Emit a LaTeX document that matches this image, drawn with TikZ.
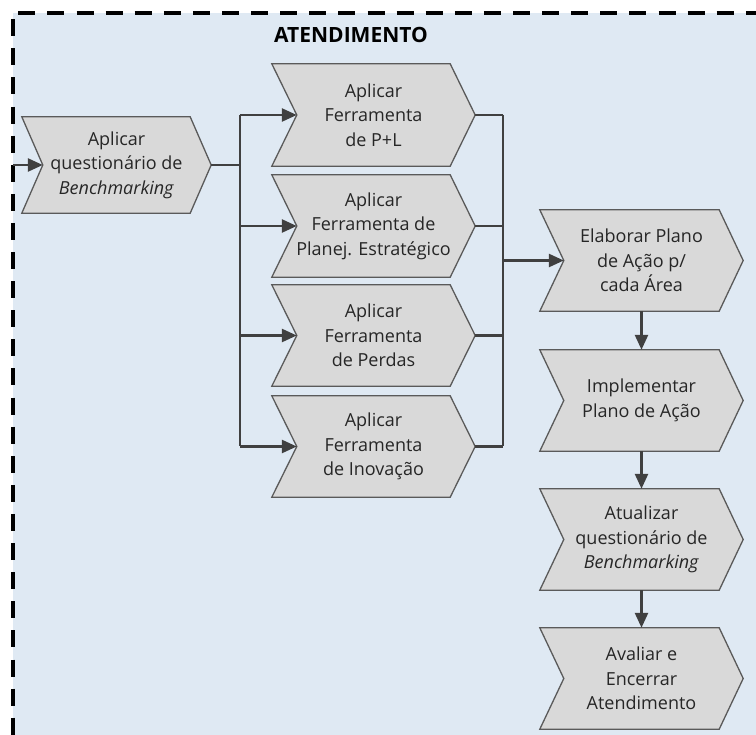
\documentclass[tikz,border=0pt]{standalone}
\usepackage{fontspec}
\setmainfont{Open Sans}
\usetikzlibrary{calc,arrows.meta}

\definecolor{panel}{HTML}{DFE9F3}
\definecolor{chevfill}{HTML}{D9D9D9}
\definecolor{chevline}{HTML}{5A5A5A}
\definecolor{wirecol}{HTML}{404040}
\definecolor{ink}{HTML}{262626}

\pgfdeclarelayer{back}
\pgfdeclarelayer{bg}
\pgfsetlayers{back,bg,main}

\tikzset{
  chev/.style={minimum width=203pt, minimum height=101pt, inner sep=0pt,
    align=center, text=ink, font=\fontsize{18}{24.5}\selectfont},
  chevshape/.style={fill=chevfill, draw=chevline, line width=1.3pt, line join=miter},
  wire/.style={draw=wirecol, line width=2.6pt},
  flow/.style={wire, -{Triangle[length=15pt,width=13pt]}},
  frame/.style={line width=4pt, dash pattern=on 17pt off 12.1pt},
  heading/.style={font=\fontsize{21}{24}\selectfont\bfseries, text=black},
}

% chevron outline behind a node; #2 is the depth of the point and the notch
\newcommand\chevron[2]{%
  \begin{pgfonlayer}{bg}
    \path[chevshape] (#1.north west) -- ($(#1.north east)+(-#2,0pt)$) -- (#1.east)
      -- ($(#1.south east)+(-#2,0pt)$) -- (#1.south west) -- ($(#1.west)+(#2,0pt)$) -- cycle;
  \end{pgfonlayer}
  \coordinate (#1-in) at ($(#1.west)+(#2,0pt)$);
}

\begin{document}
\begin{tikzpicture}[x=1pt,y=-1pt]
  \useasboundingbox (0,0) rectangle (756,735);
  \begin{pgfonlayer}{back}
    \clip (0,0) rectangle (756,735);
    \fill[panel] (13,13) rectangle (770,750);
    \draw[frame, dash phase=23.8pt] (13,13) -- (770,13);
    \draw[frame, dash phase=22.8pt] (13,13) -- (13,750);
  \end{pgfonlayer}

  \node[heading] (title) at (351,35) {ATENDIMENTO};

  % entry step
  \node[chev, minimum width=189pt, minimum height=96pt] (bench) at (116.5,165)
    {Aplicar\\questionário de\\\textit{Benchmarking}};
  \chevron{bench}{21pt}

  % tools applied in parallel
  \node[chev, minimum height=102pt] (pl)   at (373.5,115)   {Aplicar\\Ferramenta\\de P+L};
  \node[chev, minimum height=102pt] (plan) at (373.5,226)   {Aplicar\\Ferramenta de\\Planej. Estratégico};
  \node[chev] (perd) at (373.5,335.5) {Aplicar\\Ferramenta\\de Perdas};
  \node[chev] (inov) at (373.5,446.5) {Aplicar\\Ferramenta\\de Inovação};
  \foreach \n in {pl,plan,perd,inov} {\chevron{\n}{25pt}}

  % sequential steps
  \node[chev] (elab) at (641.5,260.5) {Elaborar Plano\\de Ação p/\\cada Área};
  \node[chev] (impl) at (641.5,400.5) {Implementar\\Plano de Ação};
  \node[chev] (atua) at (641.5,539.5) {Atualizar\\questionário de\\\textit{Benchmarking}};
  \node[chev] (aval) at (641.5,678.5) {Avaliar e\\Encerrar\\Atendimento};
  \foreach \n in {elab,impl,atua,aval} {\chevron{\n}{24pt}}

  % bus lines
  \coordinate (start) at (13,165);
  \coordinate (fanout) at (240,165);
  \coordinate (fanin) at (503,260.5);

  \draw[flow] (start) -- (bench-in);
  \draw[wire] (bench.east) -- (fanout);
  \draw[wire] (pl-in -| fanout) -- (inov-in -| fanout);
  \foreach \n in {pl,plan,perd,inov} {\draw[flow] (\n-in -| fanout) -- (\n-in);}

  \draw[wire] (pl.east -| fanin) -- (inov.east -| fanin);
  \foreach \n in {pl,plan,perd,inov} {\draw[wire] (\n.east) -- (\n.east -| fanin);}
  \draw[flow] (fanin) -- (elab-in);

  \draw[flow] (elab.south) -- (impl.north);
  \draw[flow] (impl.south) -- (atua.north);
  \draw[flow] (atua.south) -- (aval.north);
\end{tikzpicture}
\end{document}
